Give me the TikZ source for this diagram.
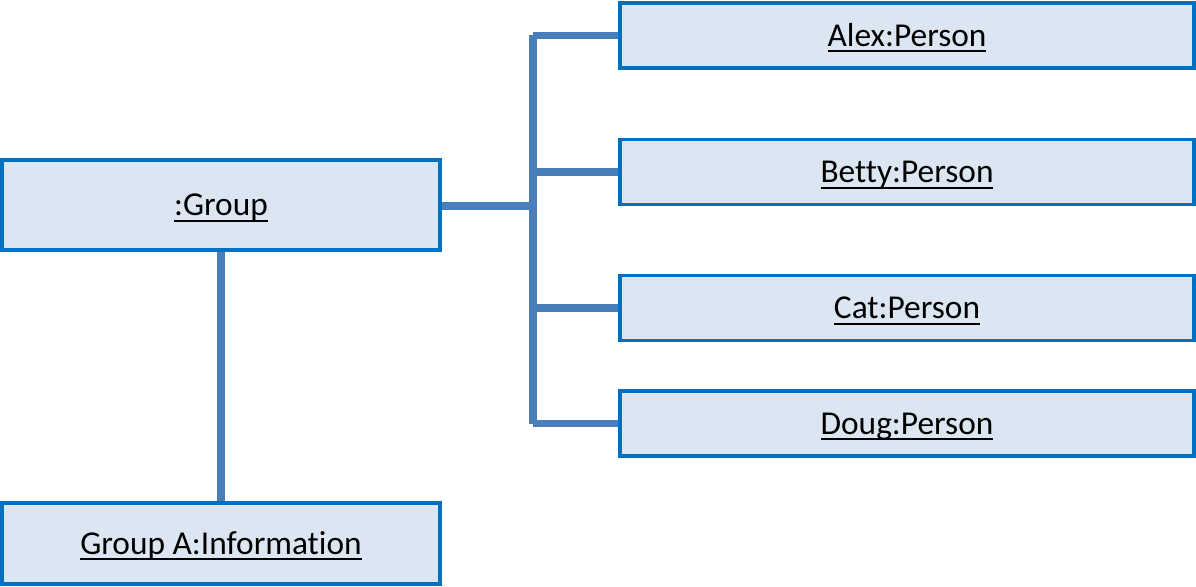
\documentclass[tikz,border=0pt]{standalone}
\usepackage{fontspec}
\setmainfont{Carlito}[Ligatures={NoCommon}]
\usetikzlibrary{positioning}

\definecolor{boxline}{HTML}{0070C0}
\definecolor{boxfill}{HTML}{DCE6F2}
\definecolor{linkblue}{HTML}{4A7EBB}

% underlined object name, caps centred in its box
\newcommand{\objname}[1]{\raisebox{-6.1pt}[0pt][0pt]{\sbox0{#1}\rlap{\usebox0}\rule[-3.4pt]{\wd0}{1.1pt}}}

\tikzset{
  objbox/.style={draw=boxline, fill=boxfill, line width=1.8pt,
    inner sep=0pt, font=\fontsize{19}{22}\selectfont},
  link/.style={draw=linkblue, line width=4.5pt}
}

\begin{document}
\begin{tikzpicture}[x=0.02cm, y=-0.02cm]

\useasboundingbox (0,0) rectangle (1196,587);

% group and information objects
\node[objbox, minimum width=8.76cm, minimum height=1.8cm] (group) at (221,205) {\objname{:Group}};
\node[objbox, minimum width=8.76cm, minimum height=1.62cm] (info) at (221,543.5) {\objname{Group A:Information}};

% person objects
\foreach \name/\lab/\y in {alex/Alex/35.5, betty/Betty/172, cat/Cat/308, doug/Doug/423.5}
{
  \node[objbox, minimum width=11.48cm, minimum height=1.3cm] (\name) at (907,\y) {\objname{\lab:Person}};
}

% bus
\coordinate (bus) at (533,206);
\draw[link] (group.east |- bus) -- (bus);
\draw[link] (bus |- alex.west) -- (bus |- doug.west);
\foreach \name in {alex, betty, cat, doug}
{
  \draw[link] (bus |- \name.west) -- (\name.west);
}

% group to information
\draw[link] (group.south) -- (info.north);

\end{tikzpicture}
\end{document}
